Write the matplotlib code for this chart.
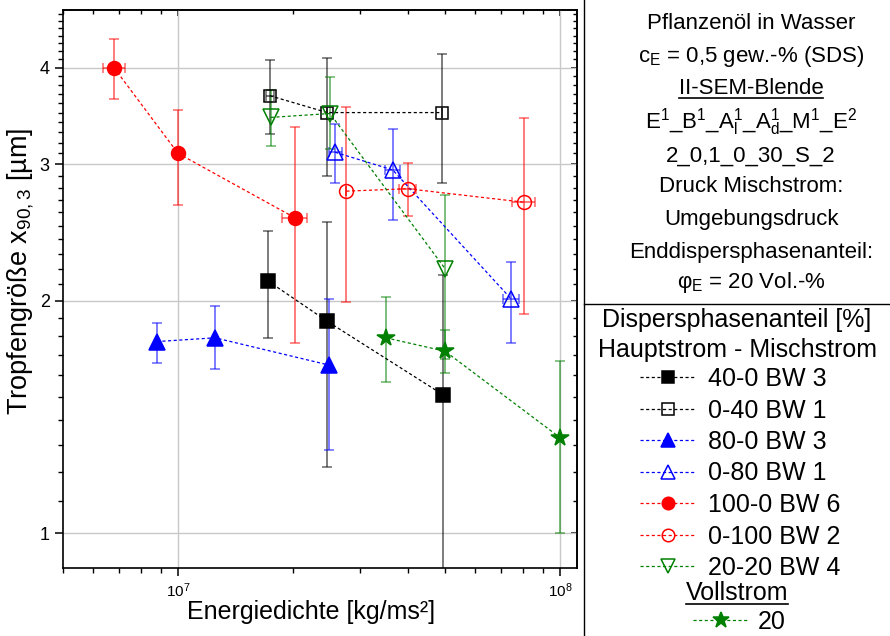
import matplotlib
matplotlib.use('Agg')
import matplotlib.pyplot as plt
from matplotlib.lines import Line2D
from matplotlib.ticker import LogLocator, FixedLocator, FixedFormatter, NullFormatter
import numpy as np

plt.rcParams['font.family'] = ['Liberation Sans', 'DejaVu Sans']
plt.rcParams['mathtext.fontset'] = 'custom'
plt.rcParams['mathtext.rm'] = 'Liberation Sans'
plt.rcParams['mathtext.it'] = 'Liberation Sans:italic'
plt.rcParams['mathtext.bf'] = 'Liberation Sans:bold'

# ------------------------
# energy density [kg/ms²], droplet size x90,3 [µm], error bounds
x_40_0 = [1.72e7, 2.46e7, 4.95e7]
y_40_0 = [2.12, 1.88, 1.51]
lo_40_0 = [1.79, 1.22, 0.5]
hi_40_0 = [2.46, 2.53, 2.16]

x_0_40 = [1.74e7, 2.46e7, 4.9e7]
y_0_40 = [3.68, 3.50, 3.50]
lo_0_40 = [3.28, 2.90, 2.84]
hi_0_40 = [4.09, 4.12, 4.17]
xe_0_40 = [0.04e7, 0, 0]

x_80_0 = [8.8e6, 1.25e7, 2.49e7]
y_80_0 = [1.77, 1.79, 1.65]
lo_80_0 = [1.66, 1.63, 1.28]
hi_80_0 = [1.87, 1.97, 2.01]

x_0_80 = [2.58e7, 3.65e7, 7.45e7]
y_0_80 = [3.11, 2.95, 2.01]
lo_0_80 = [2.84, 2.54, 1.76]
hi_0_80 = [3.38, 3.33, 2.24]
xe_0_80 = [0.1e7, 0.17e7, 0.34e7]

x_100_0 = [6.8e6, 1.0e7, 2.02e7]
y_100_0 = [4.0, 3.10, 2.56]
lo_100_0 = [3.64, 2.66, 1.76]
hi_100_0 = [4.36, 3.53, 3.35]
xe_100_0 = [0.45e6, 0, 0.15e7]

x_0_100 = [2.76e7, 3.99e7, 8.05e7]
y_0_100 = [2.77, 2.79, 2.68]
lo_0_100 = [1.99, 2.57, 1.92]
hi_0_100 = [3.56, 3.01, 3.44]
xe_0_100 = [0, 0.21e7, 0.55e7]

x_20_20 = [1.75e7, 2.5e7, 5.0e7]
y_20_20 = [3.45, 3.49, 2.20]
lo_20_20 = [3.17, 3.14, 1.68]
hi_20_20 = [3.74, 3.89, 2.74]

x_voll = [3.5e7, 5.0e7, 1.0e8]
y_voll = [1.79, 1.72, 1.33]
lo_voll = [1.57, 1.61, 1.00]
hi_voll = [2.02, 1.83, 1.67]

info_lines = ['Pflanzenöl in Wasser',
              'c$_\\mathrm{E}$ = 0,5 gew.-% (SDS)',
              'II-SEM-Blende',
              'E$^\\mathrm{1}$_B$^\\mathrm{1}$_A$^\\mathrm{1}_\\mathrm{l}$_A$^\\mathrm{1}_\\mathrm{d}$_M$^\\mathrm{1}$_E$^\\mathrm{2}$',
              '2_0,1_0_30_S_2',
              'Druck Mischstrom:',
              'Umgebungsdruck',
              'Enddispersphasenanteil:',
              'φ$_\\mathrm{E}$ = 20 Vol.-%']
# ------------------------

GREEN = '#008000'
DASH = (0, (2.5, 2))

series = [
    ('40-0 BW 3', x_40_0, y_40_0, lo_40_0, hi_40_0, None, 'k', 's', 10, 'k'),
    ('0-40 BW 1', x_0_40, y_0_40, lo_0_40, hi_0_40, xe_0_40, 'k', 's', 9, 'none'),
    ('80-0 BW 3', x_80_0, y_80_0, lo_80_0, hi_80_0, None, 'b', '^', 11, 'b'),
    ('0-80 BW 1', x_0_80, y_0_80, lo_0_80, hi_0_80, xe_0_80, 'b', '^', 11, 'none'),
    ('100-0 BW 6', x_100_0, y_100_0, lo_100_0, hi_100_0, xe_100_0, 'r', 'o', 10, 'r'),
    ('0-100 BW 2', x_0_100, y_0_100, lo_0_100, hi_0_100, xe_0_100, 'r', 'o', 10, 'none'),
    ('20-20 BW 4', x_20_20, y_20_20, lo_20_20, hi_20_20, None, GREEN, 'v', 11, 'none'),
    ('20', x_voll, y_voll, lo_voll, hi_voll, None, GREEN, '*', 13, GREEN),
]

fig = plt.figure(figsize=(8.9, 6.36), dpi=100)
ax = fig.add_axes([63 / 890, 1 - 568 / 636, 514 / 890, 558 / 636])

handles = []
for label, xs, ys, lo, hi, xe, c, m, ms, mfc in series:
    ys = np.array(ys)
    yerr = [ys - np.array(lo), np.array(hi) - ys]
    ax.errorbar(xs, ys, yerr=yerr, xerr=xe, color=c, ls=DASH, lw=0.9,
                marker=m, ms=ms, mfc=mfc, mec=c, mew=1.1,
                ecolor=matplotlib.colors.to_rgba(c, 0.6), elinewidth=1.2,
                capsize=3.5, capthick=1.1)
    handles.append(Line2D([], [], color=c, ls=DASH, lw=0.9, marker=m,
                          ms=ms - 1, mfc=mfc, mec=c, mew=1.1))

ax.set_xscale('log')
ax.set_yscale('log')
ax.set_xlim(5.0e6, 1.108e8)
ax.set_ylim(0.902, 4.75)

y_minor = [v / 10 for v in range(9, 48) if v % 10 != 0]
ax.yaxis.set_major_locator(FixedLocator([1, 2, 3, 4]))
ax.yaxis.set_major_formatter(FixedFormatter(['1', '2', '3', '4']))
ax.yaxis.set_minor_locator(FixedLocator(y_minor))
ax.yaxis.set_minor_formatter(NullFormatter())
ax.xaxis.set_major_locator(LogLocator(base=10))
ax.xaxis.set_minor_locator(LogLocator(base=10, subs=range(2, 10)))
ax.xaxis.set_minor_formatter(NullFormatter())

ax.grid(True, which='major', color='#c8c8c8', lw=1.0)
ax.set_axisbelow(True)
for s in ax.spines.values():
    s.set_linewidth(1.2)
ax.tick_params(which='major', direction='out', length=6, width=1.1, labelsize=13)
ax.tick_params(which='minor', direction='out', length=3.5, width=1.0)
ax.tick_params(axis='x', which='major', labelsize=11, pad=4)

# mirrored ticks on top and right, pointing inward
top = ax.secondary_xaxis('top')
top.xaxis.set_major_locator(LogLocator(base=10))
top.xaxis.set_minor_locator(LogLocator(base=10, subs=range(2, 10)))
top.tick_params(which='major', direction='in', length=4, width=1.1, labeltop=False)
top.tick_params(which='minor', direction='in', length=3, width=1.0)
top.xaxis.set_minor_formatter(NullFormatter())
right = ax.secondary_yaxis('right')
right.yaxis.set_major_locator(FixedLocator([1, 2, 3, 4]))
right.yaxis.set_minor_locator(FixedLocator(y_minor))
right.tick_params(which='major', direction='in', length=4, width=1.1, labelright=False)
right.tick_params(which='minor', direction='in', length=3, width=1.0)
right.yaxis.set_minor_formatter(NullFormatter())
for sa in (top, right):
    for s in sa.spines.values():
        s.set_linewidth(1.2)

ax.set_xlabel('Energiedichte [kg/ms²]', fontsize=18)
ax.xaxis.set_label_coords((311 - 63) / 514, -0.058)
ax.set_ylabel('Tropfengröße x$_{\\mathrm{90,3}}$ [µm]', fontsize=19.5)
ax.yaxis.set_label_coords((36 - 63) / 514, (568 - 271) / 558)

# right panel frame
fig.add_artist(Line2D([584 / 890, 584 / 890], [0, 1], color='k', lw=1.0, transform=fig.transFigure))
fig.add_artist(Line2D([584 / 890, 1], [1 - 304 / 636, 1 - 304 / 636], color='k', lw=1.0, transform=fig.transFigure))

baselines = [29, 62, 94, 128, 162, 192, 225, 258, 288]
texts = {}
for line, yb in zip(info_lines, baselines):
    texts[line] = fig.text(751 / 890, 1 - yb / 636, line, ha='center', va='baseline', fontsize=16)

fig.text(737 / 890, 1 - 327 / 636, 'Dispersphasenanteil [%]', ha='center', va='baseline', fontsize=18)
fig.text(737 / 890, 1 - 357 / 636, 'Hauptstrom - Mischstrom', ha='center', va='baseline', fontsize=18)
voll = fig.text(737 / 890, 1 - 600 / 636, 'Vollstrom', ha='center', va='baseline', fontsize=18)

labels = [s[0] for s in series]
leg_font = {'size': 18}
fig.legend(handles[:7], labels[:7], loc='upper left', bbox_to_anchor=(640 / 890, 1 - 367 / 636),
           frameon=False, prop=leg_font, handlelength=2.2, handletextpad=0.5,
           labelspacing=0.3, borderpad=0, borderaxespad=0)
fig.legend(handles[7:], labels[7:], loc='upper left', bbox_to_anchor=(693 / 890, 1 - 610 / 636),
           frameon=False, prop=leg_font, handlelength=2.2, handletextpad=0.4,
           borderpad=0, borderaxespad=0)

# underlines
fig.canvas.draw()
r = fig.canvas.get_renderer()
for t, off in ((texts['II-SEM-Blende'], 4), (voll, 4)):
    bb = t.get_window_extent(r)
    x0, x1 = bb.x0 / 890, bb.x1 / 890
    yb = t.get_position()[1] - off / 636
    fig.add_artist(Line2D([x0, x1], [yb, yb], color='k', lw=1.2, transform=fig.transFigure))

fig.savefig('out.png', dpi=100)
